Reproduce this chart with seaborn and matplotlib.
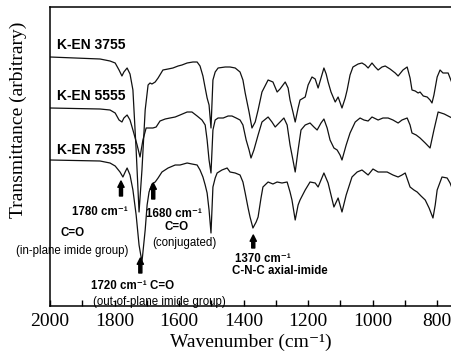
import matplotlib
matplotlib.use("Agg")
import matplotlib.pyplot as plt
import seaborn as sns
import pandas as pd

# FTIR spectra (wavenumber in cm-1, transmittance in arbitrary units)
wn_3755 = [2000, 1845, 1814, 1798, 1786, 1777, 1771, 1761, 1752, 1743, 1733, 1724, 1715, 1705, 1696,
           1690, 1684, 1674, 1665, 1650, 1634, 1619, 1603, 1591, 1575, 1557, 1544, 1535, 1526, 1519,
           1513, 1507, 1501, 1495, 1488, 1479, 1457, 1442, 1426, 1411, 1402, 1395, 1383, 1374, 1364,
           1355, 1343, 1324, 1309, 1296, 1287, 1271, 1262, 1256, 1247, 1240, 1231, 1225, 1209, 1200,
           1188, 1178, 1169, 1160, 1151, 1144, 1138, 1129, 1116, 1107, 1095, 1085, 1079, 1070, 1061,
           1045, 1033, 1023, 1014, 1002, 992, 983, 971, 961, 946, 930, 921, 906, 893, 884, 878, 868,
           859, 853, 843, 831, 822, 816, 810, 800, 791, 782, 775, 766, 760, 754]
t_3755 = [249, 247, 245, 243, 236, 230, 234, 238, 232, 216, 156, 94, 136, 196, 221,
          223, 222, 224, 228, 236, 237, 238, 240, 241, 243, 244, 244, 240, 230, 218,
          208, 201, 178, 226, 234, 238, 239, 239, 238, 234, 226, 213, 194, 178, 184,
          196, 214, 226, 224, 214, 217, 224, 218, 206, 194, 184, 198, 206, 209, 221,
          229, 227, 218, 228, 238, 232, 224, 214, 204, 209, 198, 208, 216, 231, 239,
          242, 243, 241, 238, 243, 239, 236, 239, 240, 237, 233, 230, 236, 239, 228, 216, 215,
          213, 214, 210, 209, 206, 203, 211, 229, 236, 233, 233, 233, 228, 223]

wn_5555 = [2000, 1845, 1814, 1798, 1786, 1777, 1771, 1761, 1752, 1743, 1730, 1721, 1712, 1702, 1693,
           1681, 1671, 1659, 1643, 1628, 1612, 1597, 1575, 1560, 1544, 1529, 1519, 1513, 1507, 1501,
           1495, 1488, 1479, 1463, 1448, 1436, 1423, 1411, 1402, 1392, 1383, 1377, 1368, 1355, 1343,
           1324, 1312, 1302, 1287, 1275, 1265, 1256, 1247, 1240, 1231, 1222, 1209, 1194, 1182, 1172,
           1160, 1151, 1141, 1132, 1120, 1110, 1101, 1095, 1082, 1070, 1054, 1039, 1027, 1014, 1002,
           983, 968, 952, 937, 921, 909, 893, 884, 878, 865, 853, 837, 822, 810, 797, 778, 760, 754]
t_5555 = [198, 197, 196, 193, 186, 184, 188, 191, 186, 176, 161, 149, 166, 178, 178,
          178, 179, 185, 187, 188, 189, 191, 194, 194, 190, 186, 181, 166, 146, 133,
          176, 186, 188, 188, 190, 190, 188, 186, 181, 166, 156, 148, 156, 171, 184,
          189, 184, 179, 184, 188, 181, 161, 146, 134, 156, 176, 181, 183, 179, 176,
          183, 187, 178, 166, 158, 156, 151, 146, 161, 173, 184, 188, 186, 185, 189,
          186, 188, 188, 186, 183, 186, 188, 181, 173, 171, 168, 163, 158, 176, 194, 192, 189, 188]

wn_7355 = [2000, 1845, 1814, 1798, 1783, 1774, 1767, 1761, 1752, 1743, 1733, 1724, 1715, 1705, 1699,
           1693, 1684, 1674, 1665, 1653, 1634, 1612, 1597, 1575, 1560, 1544, 1535, 1526, 1519, 1513,
           1507, 1501, 1495, 1488, 1482, 1467, 1451, 1442, 1426, 1411, 1402, 1395, 1386, 1380, 1371,
           1361, 1355, 1346, 1340, 1324, 1309, 1296, 1281, 1265, 1256, 1250, 1240, 1231, 1225, 1209,
           1194, 1178, 1169, 1160, 1151, 1138, 1129, 1120, 1107, 1095, 1082, 1064, 1048, 1033, 1014,
           999, 983, 968, 955, 937, 921, 909, 899, 884, 872, 862, 850, 837, 825, 813, 806, 800, 785,
           769, 760, 754]
t_7355 = [146, 145, 143, 140, 134, 129, 134, 138, 131, 116, 91, 61, 44, 76, 101,
          114, 122, 124, 128, 134, 138, 141, 141, 143, 142, 141, 136, 129, 121, 113,
          96, 73, 119, 128, 133, 136, 138, 134, 133, 131, 124, 113, 98, 89, 78,
          84, 89, 108, 119, 124, 122, 124, 123, 124, 114, 106, 86, 101, 106, 116,
          124, 123, 119, 126, 133, 123, 111, 99, 108, 94, 111, 129, 134, 136, 131,
          137, 134, 134, 134, 131, 129, 131, 133, 119, 116, 114, 110, 106, 98, 88, 101, 116, 129,
          128, 123, 118]

samples = ["K-EN 3755", "K-EN 5555", "K-EN 7355"]

# peak assignments: (wavenumber, arrow tail, arrow head)
arrow_wn = [1780, 1680, 1720, 1370]
arrow_from = [110, 107, 33, 58]
arrow_to = [125, 123, 48, 71]

sns.set_style("ticks")

fig = plt.figure(figsize=(4.52, 3.63), dpi=100)
ax = fig.add_axes([50 / 452, 57 / 363, 402 / 452, 299 / 363])

for wn, t in [(wn_3755, t_3755), (wn_5555, t_5555), (wn_7355, t_7355)]:
    df = pd.DataFrame({"wn": wn, "t": t})
    sns.lineplot(data=df, x="wn", y="t", ax=ax, sort=False, estimator=None,
                 color="#111111", linewidth=0.9)

ax.set_xlim(2000, 754)
ax.set_ylim(0, 299)
ax.set_xticks([2000, 1800, 1600, 1400, 1200, 1000, 800])
ax.set_xticks(range(1900, 750, -200), minor=True)
ax.set_yticks([])
ax.tick_params(axis="x", which="both", direction="in", length=4, width=1,
               labelsize=14, pad=5, colors="black")
for lab in ax.get_xticklabels():
    lab.set_family("Liberation Serif")
ax.spines["right"].set_visible(False)
for s in ["left", "top", "bottom"]:
    ax.spines[s].set_linewidth(1.1)
    ax.spines[s].set_color("black")

ax.set_xlabel("Wavenumber (cm⁻¹)", family=["Liberation Serif", "DejaVu Serif"],
              fontsize=14, labelpad=3, color="black")
ax.set_ylabel("")
fig.text(18 / 452, 1 - 120 / 363, "Transmittance (arbitrary)", rotation=90,
         ha="center", va="center", family=["Liberation Serif", "DejaVu Serif"],
         fontsize=14, color="black")

sans = ["Liberation Sans", "DejaVu Sans"]
for name, yy in zip(samples, [261, 210, 156]):
    ax.text(1978, yy, name, ha="left", va="center", family=sans,
            fontweight="bold", fontsize=10, color="black")

for w, a, b in zip(arrow_wn, arrow_from, arrow_to):
    ax.annotate("", xy=(w, b), xytext=(w, a),
                arrowprops=dict(arrowstyle="simple,head_width=0.45,head_length=0.45,tail_width=0.22",
                                color="black", shrinkA=0, shrinkB=0))

notes = [
    (1845, 94, "1780 cm⁻¹", "bold", "center"),
    (1929, 73, "C=O", "bold", "center"),
    (1932, 55, "(in-plane imide group)", "normal", "center"),
    (1743, 20, "1720 cm⁻¹ C=O", "bold", "center"),
    (1662, 4, "(out-of-plane imide group)", "normal", "center"),
    (1616, 92, "1680 cm⁻¹", "bold", "center"),
    (1609, 79, "C=O", "bold", "center"),
    (1585, 63, "(conjugated)", "normal", "center"),
    (1426, 47.5, "1370 cm⁻¹", "bold", "left"),
    (1436, 35, "C-N-C axial-imide", "bold", "left"),
]
for x, y, s, wt, ha in notes:
    ax.text(x, y, s, ha=ha, va="center", family=sans, fontweight=wt,
            fontsize=8.3, color="black")

fig.savefig("out.png", dpi=100)
